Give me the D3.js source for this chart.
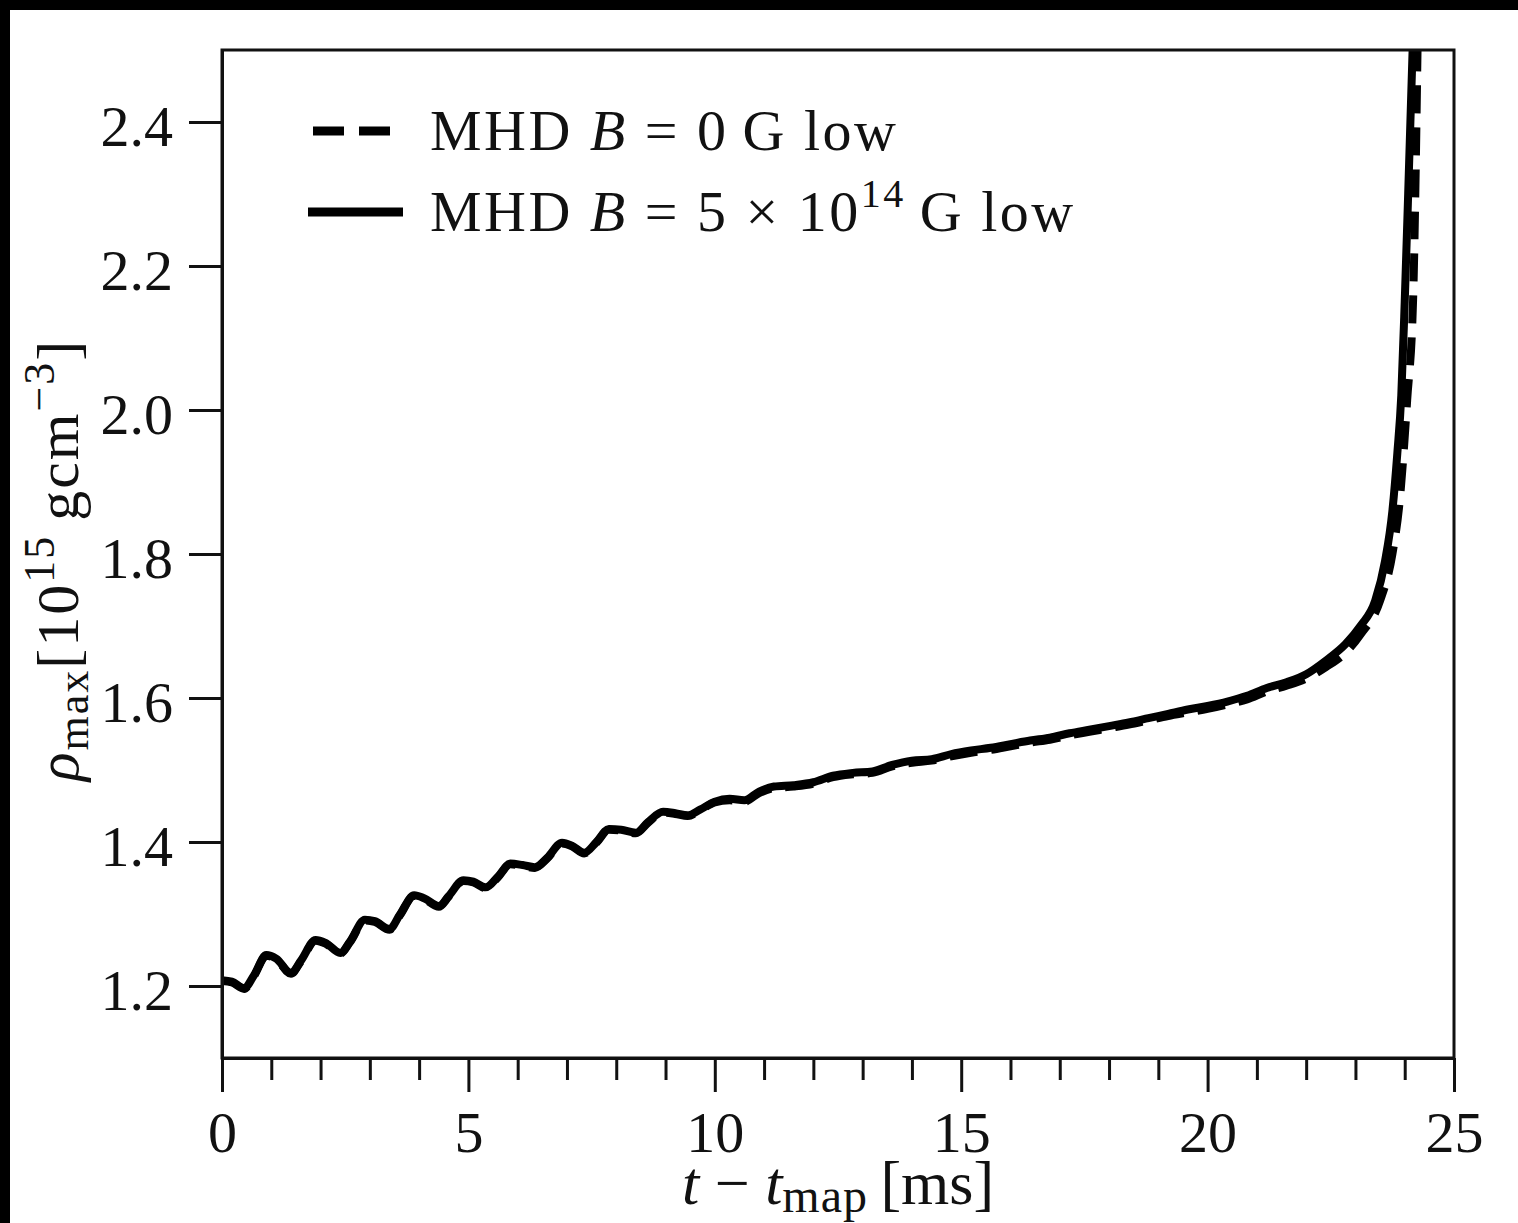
<!DOCTYPE html>
<html>
<head>
<meta charset="utf-8">
<script src="https://cdn.jsdelivr.net/npm/d3@7"></script>
<style>
  html, body { margin: 0; padding: 0; background: #fff; }
  svg { display: block; }
  text { font-family: "Liberation Serif", "DejaVu Serif", serif; fill: #111; }
</style>
</head>
<body>
<svg id="chart" width="1518" height="1223"></svg>
<script>
// ---- data ----
const xTicks = [0, 5, 10, 15, 20, 25];
const xMinorTicks = [1, 2, 3, 4, 6, 7, 8, 9, 11, 12, 13, 14, 16, 17, 18, 19, 21, 22, 23, 24];
const yTicks = [1.2, 1.4, 1.6, 1.8, 2.0, 2.2, 2.4];

// B = 5e14 G (solid)
const tSolid = [0, 0.2, 0.45, 0.65, 0.9, 1.1, 1.4, 1.6, 1.9, 2.1, 2.4, 2.6, 2.9, 3.1, 3.4, 3.6, 3.9, 4.1, 4.4, 4.6,
  4.9, 5.1, 5.35, 5.6, 5.85, 6.1, 6.35, 6.6, 6.9, 7.1, 7.35, 7.6, 7.85, 8.1, 8.4, 8.65, 8.95, 9.2, 9.45, 9.7,
  10.0, 10.3, 10.6, 10.9, 11.2, 11.6, 12.0, 12.4, 12.8, 13.2, 13.6, 14.0, 14.4, 14.8, 15.2, 15.6, 16.0, 16.4,
  16.8, 17.2, 17.6, 18.0, 18.4, 18.8, 19.2, 19.6, 20.0, 20.4, 20.8, 21.2, 21.6, 22.0, 22.4, 22.8, 23.1, 23.4,
  23.6, 23.75, 23.85, 23.93, 24.0, 24.07, 24.16];
const rhoSolid = [1.208, 1.206, 1.197, 1.215, 1.243, 1.238, 1.218, 1.235, 1.264, 1.26, 1.246, 1.262, 1.292, 1.29,
  1.279, 1.298, 1.326, 1.322, 1.311, 1.325, 1.347, 1.345, 1.337, 1.352, 1.37, 1.368, 1.365, 1.378, 1.399, 1.395,
  1.385, 1.40, 1.418, 1.417, 1.413, 1.428, 1.442, 1.44, 1.437, 1.445, 1.456, 1.46, 1.458, 1.47, 1.477, 1.479,
  1.483, 1.492, 1.496, 1.498, 1.507, 1.513, 1.515, 1.522, 1.527, 1.531, 1.536, 1.541, 1.545, 1.551, 1.556,
  1.561, 1.566, 1.572, 1.578, 1.584, 1.589, 1.595, 1.603, 1.614, 1.622, 1.633, 1.652, 1.675, 1.70, 1.735,
  1.79, 1.86, 1.94, 2.02, 2.15, 2.3, 2.5];

// B = 0 G (dashed)
const tDashed = [0, 0.2, 0.45, 0.65, 0.9, 1.1, 1.4, 1.6, 1.9, 2.1, 2.4, 2.6, 2.9, 3.1, 3.4, 3.6, 3.9, 4.1, 4.4, 4.6,
  4.9, 5.1, 5.35, 5.6, 5.85, 6.1, 6.35, 6.6, 6.9, 7.1, 7.35, 7.6, 7.85, 8.1, 8.4, 8.65, 8.95, 9.2, 9.45, 9.7,
  10.0, 10.3, 10.6, 10.9, 11.2, 11.6, 12.0, 12.4, 12.8, 13.2, 13.6, 14.0, 14.4, 14.8, 15.2, 15.6, 16.0, 16.4,
  16.8, 17.2, 17.6, 18.0, 18.4, 18.8, 19.2, 19.6, 20.0, 20.4, 20.8, 21.2, 21.6, 22.0, 22.4, 22.8, 23.1, 23.5,
  23.75, 23.9, 24.05, 24.17, 24.26];
const rhoDashed = [1.207, 1.205, 1.196, 1.214, 1.242, 1.237, 1.217, 1.234, 1.263, 1.259, 1.245, 1.261, 1.291, 1.289,
  1.278, 1.297, 1.325, 1.321, 1.310, 1.324, 1.346, 1.344, 1.336, 1.351, 1.369, 1.367, 1.364, 1.377, 1.398, 1.394,
  1.384, 1.399, 1.417, 1.416, 1.412, 1.427, 1.441, 1.439, 1.436, 1.444, 1.455, 1.458, 1.456, 1.468, 1.475, 1.477,
  1.481, 1.490, 1.494, 1.496, 1.505, 1.510, 1.513, 1.519, 1.524, 1.528, 1.533, 1.538, 1.542, 1.548, 1.553,
  1.558, 1.563, 1.569, 1.575, 1.580, 1.585, 1.591, 1.598, 1.609, 1.617, 1.627, 1.643, 1.663, 1.688, 1.735,
  1.80, 1.875, 2.014, 2.153, 2.5];

// ---- layout ----
const svg = d3.select("#chart");
const W = 1518, H = 1223;
const m = { left: 222, top: 50, right: W - 1454, bottom: H - 1058 };
const width = W - m.left - m.right;
const height = H - m.top - m.bottom;

// black frame on top and left of the picture
svg.append("rect").attr("x", 0).attr("y", 0).attr("width", W).attr("height", 10).attr("fill", "#000");
svg.append("rect").attr("x", 0).attr("y", 0).attr("width", 10).attr("height", H).attr("fill", "#000");

const g = svg.append("g").attr("transform", `translate(${m.left},${m.top})`);

const x = d3.scaleLinear().domain([0, 25]).range([0, width]);
const y = d3.scaleLinear().domain([1.1, 2.5]).range([height, 0]);

g.append("clipPath").attr("id", "plotClip")
  .append("rect").attr("width", width).attr("height", height);

// ---- lines ----
const line = d3.line()
  .x(d => x(d[0]))
  .y(d => y(d[1]))
  .curve(d3.curveMonotoneX);

const dashedData = d3.zip(tDashed, rhoDashed);
const solidData = d3.zip(tSolid, rhoSolid);

const lines = g.append("g").attr("clip-path", "url(#plotClip)");
lines.append("path")
  .attr("d", line(dashedData))
  .attr("fill", "none")
  .attr("stroke", "#000")
  .attr("stroke-width", 8)
  .attr("stroke-dasharray", "28,14");
lines.append("path")
  .attr("d", line(solidData))
  .attr("fill", "none")
  .attr("stroke", "#000")
  .attr("stroke-width", 8)
  .attr("stroke-linejoin", "round");

// ---- axes ----
const xAxisG = g.append("g")
  .attr("transform", `translate(0,${height})`)
  .call(d3.axisBottom(x).tickValues(xTicks).tickSize(34).tickSizeOuter(0).tickFormat(d3.format("d")));
g.append("g")
  .attr("transform", `translate(0,${height})`)
  .call(d3.axisBottom(x).tickValues(xMinorTicks).tickSize(22).tickSizeOuter(0).tickFormat(""))
  .call(s => s.select(".domain").remove());

xAxisG.selectAll("text")
  .attr("y", 94).attr("dy", 0)
  .style("font-size", "58px");

const yAxisG = g.append("g")
  .call(d3.axisLeft(y).tickValues(yTicks).tickSize(33).tickSizeOuter(0).tickFormat(d3.format(".1f")));
yAxisG.selectAll("text")
  .attr("x", -49).attr("dy", "0.4em")
  .style("font-size", "58px");

g.selectAll(".tick line").attr("stroke", "#111").attr("stroke-width", 3);
g.selectAll(".domain").attr("stroke", "#111").attr("stroke-width", 3);
g.selectAll(".tick text").attr("fill", "#111").style("font-family", "Liberation Serif, serif");

// frame
g.append("rect")
  .attr("width", width).attr("height", height)
  .attr("fill", "none").attr("stroke", "#111").attr("stroke-width", 3);

// ---- axis labels ----
const xLab = svg.append("text")
  .attr("x", m.left + width / 2).attr("y", 1204)
  .attr("text-anchor", "middle")
  .style("font-size", "62px")
  .attr("xml:space", "preserve");
xLab.append("tspan").style("font-style", "italic").text("t");
xLab.append("tspan").text(" \u2212 ");
xLab.append("tspan").style("font-style", "italic").text("t");
xLab.append("tspan").attr("dy", 8).style("font-size", "48px").style("letter-spacing", "1px").text("map");
xLab.append("tspan").attr("dy", -8).text("\u2009[ms]");

const yLab = svg.append("text")
  .attr("transform", `translate(78,${m.top + height / 2 + 6}) rotate(-90)`)
  .attr("text-anchor", "middle")
  .style("font-size", "60px")
  .style("letter-spacing", "2px");
yLab.append("tspan").style("font-style", "italic").text("\u03c1");
yLab.append("tspan").attr("dy", 10).style("font-size", "44px").text("max");
yLab.append("tspan").attr("dy", -10).text("[10");
yLab.append("tspan").attr("dy", -24).style("font-size", "44px").text("15");
yLab.append("tspan").attr("dy", 24).text("\u2009gcm");
yLab.append("tspan").attr("dy", -24).style("font-size", "44px").text("\u22123");
yLab.append("tspan").attr("dy", 24).text("]");

// ---- legend ----
const legend = svg.append("g");
const legendRows = [
  { y: 131, dash: "31,15", x1: 313, x2: 390, parts: [["MHD ", ""], ["B", "italic"], [" = 0\u2009G low", ""]] },
  { y: 212, dash: null, x1: 308, x2: 403, parts: [["MHD ", ""], ["B", "italic"], [" = 5 \u00d7 10", ""], ["14", "sup"], ["\u2009G low", ""]] }
];
legendRows.forEach(r => {
  legend.append("line")
    .attr("x1", r.x1).attr("x2", r.x2)
    .attr("y1", r.y).attr("y2", r.y)
    .attr("stroke", "#000").attr("stroke-width", 9)
    .attr("stroke-dasharray", r.dash);
  const t = legend.append("text")
    .attr("x", 430).attr("y", r.y + 19)
    .style("font-size", "58px")
    .style("letter-spacing", "2.5px");
  let raised = false;
  r.parts.forEach(([s, kind]) => {
    const ts = t.append("tspan").text(s);
    if (kind === "italic") ts.style("font-style", "italic");
    if (kind === "sup") { ts.attr("dy", -24).style("font-size", "40px"); raised = true; }
    else if (raised) { ts.attr("dy", 24); raised = false; }
  });
});
</script>
</body>
</html>
